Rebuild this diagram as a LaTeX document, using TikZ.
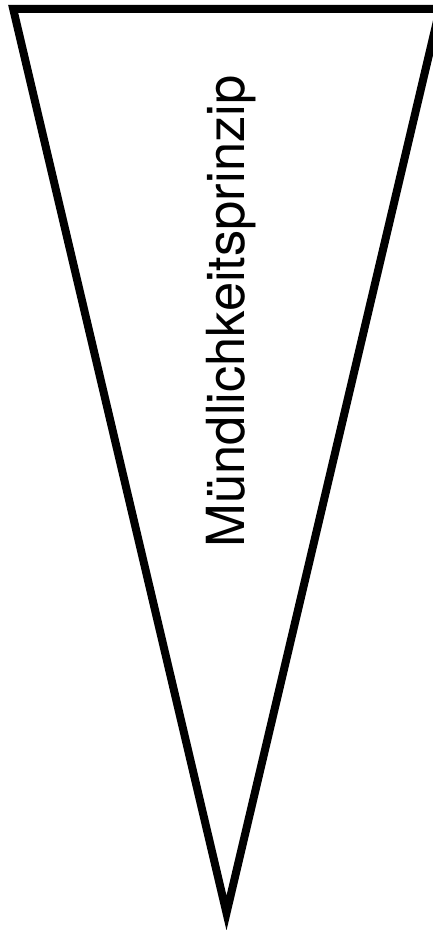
\documentclass[tikz,border=0pt]{standalone}
\usepackage{fontspec}
\setmainfont{TeX Gyre Heros}
\usetikzlibrary{calc}

\tikzset{
  pennant/.style={draw=black, line width=8pt, line join=miter, fill=white},
  pennantlabel/.style={rotate=90, anchor=base, font=\fontsize{52.5pt}{60pt}\selectfont, inner sep=0pt}
}

\begin{document}
\begin{tikzpicture}[x=1pt, y=1pt]
    \useasboundingbox (0,0) rectangle (432,930);
    \coordinate (topleft) at (13.2,921);
    \coordinate (topright) at (439.8,921);
    \coordinate (tip) at (226.5,17);
    \draw[pennant] (topleft) -- (topright) -- (tip) -- cycle;
    \node[pennantlabel] (name) at (244,618.5) {Mündlichkeitsprinzip};
  \end{tikzpicture}
\end{document}
